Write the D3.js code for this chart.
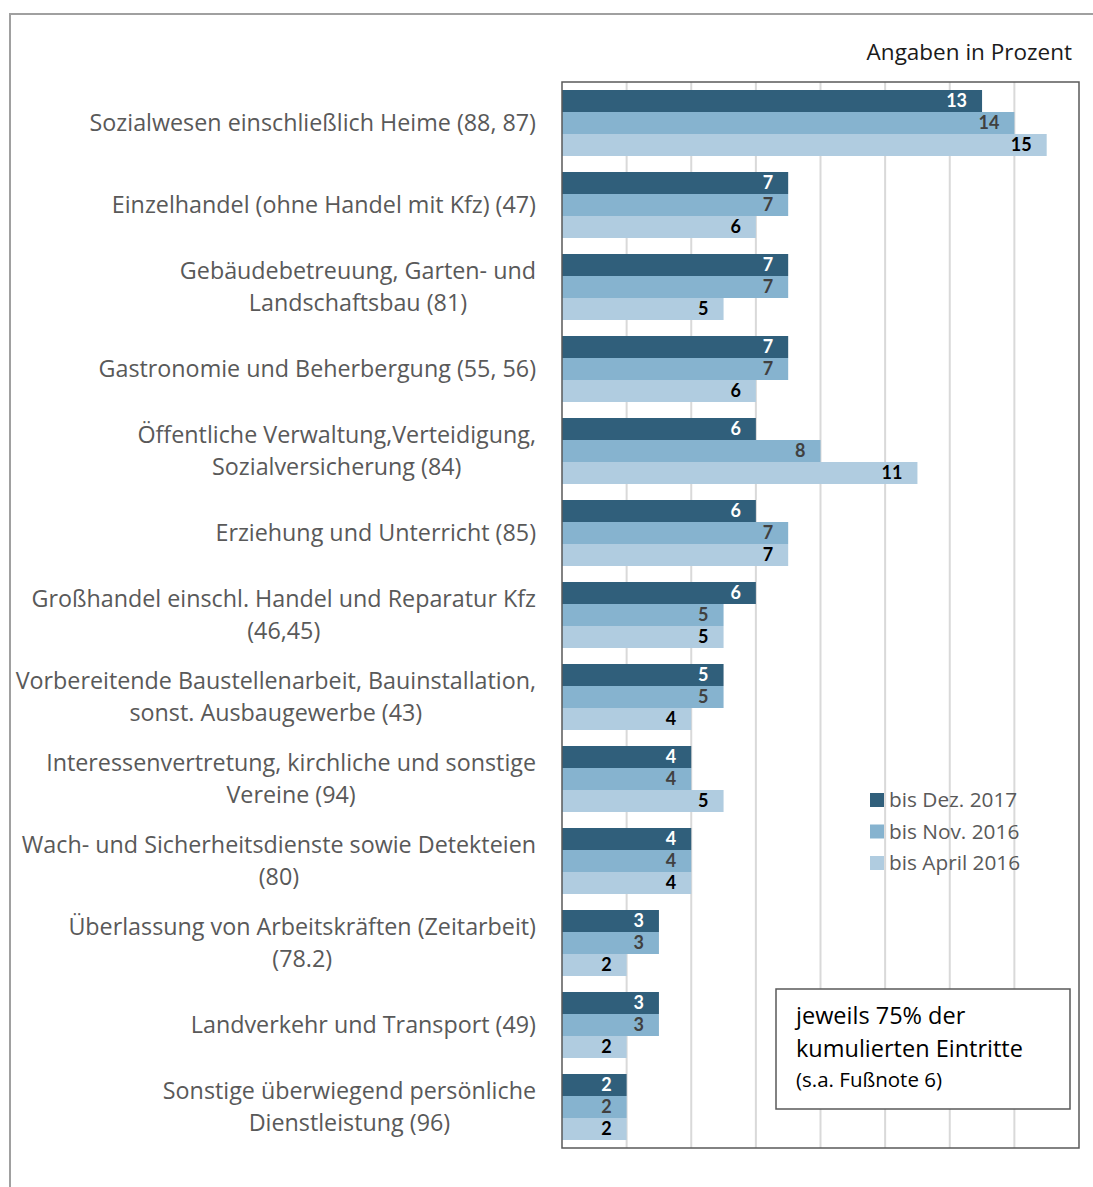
<!DOCTYPE html>
<html lang="de">
<head>
    <meta charset="UTF-8">
    <title>Eintritte nach Branchen</title>
    <style>
        body { margin: 0; background: #fff; }
        text { font-family: "Open Sans", "Noto Sans", sans-serif; }
        .grid line { stroke: #d9d9d9; stroke-width: 2px; }
        .cat { fill: #595959; font-size: 23.3px; }
        .val { font-family: Lato, "Liberation Sans", sans-serif; font-size: 18px; font-weight: bold; }
        .legend text { fill: #595959; font-size: 20.8px; }
    </style>
</head>
<body>

<script src="https://d3js.org/d3.v7.min.js"></script>
<script>

    const width = 1093;
    const height = 1187;

    // Kategorien (Zeilen umbrochen wie im Original)
    const categories = [
        ['Sozialwesen einschließlich Heime (88, 87)'],
        ['Einzelhandel (ohne Handel mit Kfz) (47)'],
        ['Gebäudebetreuung, Garten- und', 'Landschaftsbau (81)'],
        ['Gastronomie und Beherbergung (55, 56)'],
        ['Öffentliche Verwaltung,Verteidigung,', 'Sozialversicherung (84)'],
        ['Erziehung und Unterricht (85)'],
        ['Großhandel einschl. Handel und Reparatur Kfz', '(46,45)'],
        ['Vorbereitende Baustellenarbeit, Bauinstallation,', 'sonst. Ausbaugewerbe (43)'],
        ['Interessenvertretung, kirchliche und sonstige', 'Vereine (94)'],
        ['Wach- und Sicherheitsdienste sowie Detekteien', '(80)'],
        ['Überlassung von Arbeitskräften (Zeitarbeit)', '(78.2)'],
        ['Landverkehr und Transport (49)'],
        ['Sonstige überwiegend persönliche', 'Dienstleistung (96)']
    ];

    const seriesNames = ['bis Dez. 2017', 'bis Nov. 2016', 'bis April 2016'];
    const dez2017 = [13, 7, 7, 7, 6, 6, 6, 5, 4, 4, 3, 3, 2];
    const nov2016 = [14, 7, 7, 7, 8, 7, 5, 5, 4, 4, 3, 3, 2];
    const apr2016 = [15, 6, 5, 6, 11, 7, 5, 4, 5, 4, 2, 2, 2];
    const xTicks = [2, 4, 6, 8, 10, 12, 14];

    const colors = ['#305f7b', '#86b3cf', '#b0cce0'];
    const valueColors = ['#ffffff', '#404040', '#000000'];

    const plot = {left: 562, right: 1079, top: 82, bottom: 1148};

    let svg = d3.select('body').append('svg')
        .attr('width', width)
        .attr('height', height);

    // Rahmen aussen
    svg.append('path')
        .attr('d', 'M10,' + height + ' V14 H' + width)
        .attr('fill', 'none')
        .attr('stroke', '#a0a0a0')
        .attr('stroke-width', 2);

    let x = d3.scaleLinear().domain([0, 16]).range([plot.left, plot.right]);
    let idx = d3.range(categories.length);
    let y = d3.scaleBand().domain(idx)
        .range([plot.top, plot.bottom])
        .paddingInner(16 / 82)
        .paddingOuter(8 / 82);
    let ySub = d3.scaleBand().domain([0, 1, 2]).range([0, y.bandwidth()]);

    svg.append('g').attr('class', 'grid')
        .selectAll('line')
        .data(xTicks)
        .join('line')
        .attr('x1', d => x(d)).attr('x2', d => x(d))
        .attr('y1', plot.top).attr('y2', plot.bottom);

    const series = [dez2017, nov2016, apr2016];

    let groups = svg.append('g').selectAll('g')
        .data(idx)
        .join('g')
        .attr('transform', d => 'translate(0,' + y(d) + ')');

    groups.selectAll('rect')
        .data(i => series.map((s, k) => ({k: k, v: s[i]})))
        .join('rect')
        .attr('x', x(0))
        .attr('y', d => ySub(d.k))
        .attr('width', d => x(d.v) - x(0))
        .attr('height', ySub.bandwidth())
        .attr('fill', d => colors[d.k]);

    groups.selectAll('text.val')
        .data(i => series.map((s, k) => ({k: k, v: s[i]})))
        .join('text')
        .attr('class', 'val')
        .attr('x', d => x(d.v) - 15)
        .attr('y', d => ySub(d.k) + ySub.bandwidth() / 2)
        .attr('dy', '0.36em')
        .attr('text-anchor', 'end')
        .attr('fill', d => valueColors[d.k])
        .text(d => d.v);

    // Kategorienbeschriftung
    let cats = svg.append('g').selectAll('text')
        .data(idx)
        .join('text')
        .attr('class', 'cat')
        .attr('text-anchor', 'end')
        .attr('transform', d => 'translate(536,' + (y(d) + y.bandwidth() / 2) + ')');

    cats.selectAll('tspan')
        .data(i => categories[i].map((t, j) => ({t: t, j: j, n: categories[i].length})))
        .join('tspan')
        .attr('x', 0)
        .attr('y', d => (d.j - (d.n - 1) / 2) * 32)
        .attr('dy', '0.35em')
        .text(d => d.t);

    // zweite Zeilen zentriert unter der ersten
    cats.each(function () {
        let spans = d3.select(this).selectAll('tspan').nodes();
        if (spans.length > 1) {
            let w0 = spans[0].getComputedTextLength();
            let w1 = spans[1].getComputedTextLength();
            d3.select(spans[1]).attr('x', -(w0 - w1) / 2);
        }
    });

    // Plotrahmen
    svg.append('rect')
        .attr('x', plot.left).attr('y', plot.top)
        .attr('width', plot.right - plot.left)
        .attr('height', plot.bottom - plot.top)
        .attr('fill', 'none')
        .attr('stroke', '#595959')
        .attr('stroke-width', 1.5);

    svg.append('text')
        .attr('x', 1072).attr('y', 60)
        .attr('text-anchor', 'end')
        .attr('fill', '#1a1a1a')
        .style('font-size', '22.5px')
        .text('Angaben in Prozent');

    // Legende
    let legend = svg.append('g').attr('class', 'legend')
        .selectAll('g')
        .data(seriesNames)
        .join('g')
        .attr('transform', (d, i) => 'translate(870,' + (800 + i * 31.5) + ')');

    legend.append('rect')
        .attr('x', 0).attr('y', -7)
        .attr('width', 14).attr('height', 14)
        .attr('fill', (d, i) => colors[i]);

    legend.append('text')
        .attr('x', 19).attr('dy', '0.35em')
        .text(d => d);

    // Hinweisbox
    let note = svg.append('g');
    note.append('rect')
        .attr('x', 776).attr('y', 989)
        .attr('width', 294).attr('height', 120)
        .attr('fill', '#fff')
        .attr('stroke', '#595959')
        .attr('stroke-width', 1.5);

    note.append('text')
        .attr('x', 796).attr('y', 1024)
        .attr('fill', '#000')
        .style('font-size', '23.5px')
        .text('jeweils 75% der');
    note.append('text')
        .attr('x', 796).attr('y', 1057)
        .attr('fill', '#000')
        .style('font-size', '23.5px')
        .text('kumulierten Eintritte');
    note.append('text')
        .attr('x', 796).attr('y', 1087)
        .attr('fill', '#000')
        .style('font-size', '20.5px')
        .text('(s.a. Fußnote 6)');

</script>

</body>
</html>
